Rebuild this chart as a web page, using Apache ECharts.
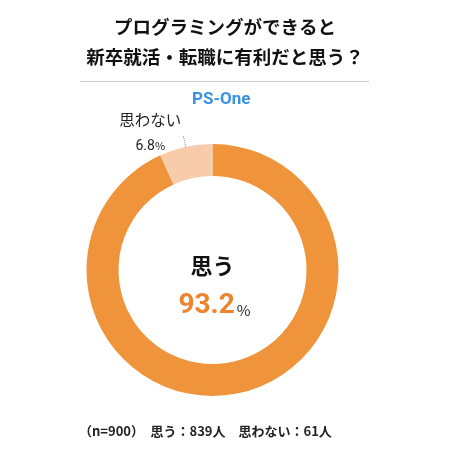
<!DOCTYPE html>
<html>
<head>
<meta charset="utf-8">
<script src="https://cdn.jsdelivr.net/npm/echarts@6/dist/echarts.min.js"></script>
<style>
  html, body { margin: 0; padding: 0; background: #fff; }
  #main { width: 450px; height: 450px; }
</style>
</head>
<body>
<div id="main"></div>
<script>
var categories = ['思う', '思わない'];
var percents = [93.2, 6.8];
var counts = [839, 61];
var total = 900;
var colors = ['#F0943B', '#F8CBAB'];

var JP = '"Noto Sans CJK JP", sans-serif';

var myChart = echarts.init(document.getElementById('main'));

var pieData = categories.map(function (name, i) {
    var item = {
        name: name,
        value: percents[i],
        itemStyle: { color: colors[i] }
    };
    if (i === 0) {
        item.label = {
            show: true,
            position: 'center',
            offset: [0, 16],
            formatter: '{a|' + name + '}\n{b|' + percents[i] + '}{c|%}',
            rich: {
                a: { fontFamily: JP, fontSize: 22, fontWeight: 'bold', color: '#111', lineHeight: 40, align: 'center' },
                b: { fontFamily: 'Roboto', fontSize: 28, fontWeight: 'bold', color: '#EF8430', lineHeight: 40, padding: [0, 0, 0, 4] },
                c: { fontFamily: JP, fontSize: 15, color: '#222', lineHeight: 40, padding: [8, 0, 0, 2] }
            }
        };
    } else {
        item.label = {
            show: true,
            position: 'outside',
            distanceToLabelLine: 2,
            padding: [0, 0, 6, 0],
            formatter: '{n|' + name + '}\n{v|' + percents[i] + '}{p|%}',
            rich: {
                n: { fontFamily: JP, fontSize: 15.5, color: '#222', lineHeight: 28, align: 'center' },
                v: { fontFamily: 'Roboto', fontSize: 14, color: '#222', lineHeight: 24, align: 'center' },
                p: { fontFamily: JP, fontSize: 11, color: '#222', lineHeight: 24, align: 'center' }
            }
        };
        item.labelLine = {
            show: true,
            length: 12,
            length2: 0,
            lineStyle: { color: '#888', type: 'dotted', width: 1 }
        };
    }
    return item;
});

var option = {
    animation: false,
    title: [{
        text: 'プログラミングができると\n新卒就活・転職に有利だと思う？',
        left: 'center',
        top: 7,
        textStyle: { fontFamily: JP, fontSize: 18.5, fontWeight: 'bold', color: '#111', lineHeight: 30 }
    }, {
        text: 'PS-One',
        left: 187,
        top: 86,
        textStyle: { fontFamily: 'Roboto', fontSize: 17, fontWeight: 'bold', color: '#3A90E2' }
    }, {
        text: '（n=' + total + '）　' + categories[0] + '：' + counts[0] + '人　' + categories[1] + '：' + counts[1] + '人',
        left: 74,
        top: 420,
        textStyle: { fontFamily: JP, fontSize: 13, fontWeight: 'bold', color: '#222' }
    }],
    graphic: [{
        type: 'line',
        shape: { x1: 80, y1: 81.5, x2: 369, y2: 81.5 },
        style: { stroke: '#c8c8c8', lineWidth: 1 }
    }],
    series: [{
        type: 'pie',
        center: [212.5, 270],
        radius: [94, 126],
        startAngle: 90,
        clockwise: true,
        silent: true,
        emphasis: { disabled: true },
        label: { show: false },
        labelLine: { show: false },
        data: pieData
    }]
};

myChart.setOption(option);
</script>
</body>
</html>
